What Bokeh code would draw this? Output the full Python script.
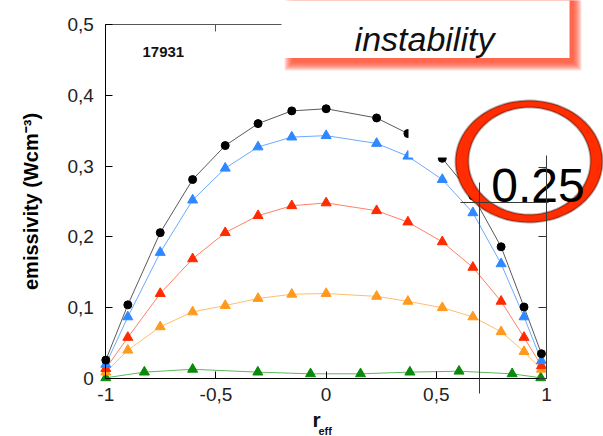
import numpy as np
from bokeh.plotting import figure
from bokeh.models import (Range1d, LinearAxis, FixedTicker, CustomJSTickFormatter,
                          Label, BoxAnnotation, PolyAnnotation, Arrow, ColumnDataSource)
from bokeh.embed import file_html
from bokeh.resources import INLINE

# ---------------- data ----------------
x_main = [-1.0, -0.9, -0.753, -0.606, -0.458, -0.309, -0.156, 0.0, 0.229, 0.371,
          0.527, 0.666, 0.794, 0.898, 0.977]
y_black = [0.026, 0.104, 0.206, 0.281, 0.329, 0.360, 0.378, 0.381, 0.368, 0.346,
           0.311, 0.258, 0.186, 0.101, 0.035]
y_blue = [0.020, 0.087, 0.178, 0.252, 0.297, 0.327, 0.341, 0.343, 0.332, 0.314,
          0.281, 0.234, 0.162, 0.087, 0.025]
y_red = [0.014, 0.058, 0.120, 0.169, 0.206, 0.230, 0.244, 0.248, 0.237, 0.221,
         0.193, 0.157, 0.109, 0.058, 0.018]
y_orange = [0.009, 0.040, 0.073, 0.094, 0.103, 0.113, 0.119, 0.120, 0.116, 0.109,
            0.100, 0.087, 0.066, 0.038, 0.013]
x_green = [-1.0, -0.825, -0.606, -0.31, -0.071, 0.156, 0.38, 0.603, 0.844, 0.974]
y_green = [0.001, 0.009, 0.013, 0.009, 0.0066, 0.0066, 0.009, 0.0103, 0.0066, 0.001]

x_ticks = [-1, -0.5, 0, 0.5, 1]
y_ticks = [0, 0.1, 0.2, 0.3, 0.4, 0.5]
shot_label = "17931"
y_title = "emissivity (Wcm\u207b\u00b3)"
box_text = "instability"
circle_text = "0.25"

FONT = "Liberation Sans"

# ---------------- geometry (pixels of the plotting box) ----------------
W, H = 603, 436
PL, PR, PT, PB = 105.3, 546.0, 24.0, 378.0


def dx(px):
    return (px - PL) / (PR - PL) * 2 - 1


def dy(py):
    return (PB - py) / (PB - PT) * 0.5


p = figure(width=W, height=H, x_range=Range1d(dx(0), dx(W)), y_range=Range1d(dy(H), dy(0)),
           output_backend="svg", toolbar_location=None, x_axis_location=None,
           y_axis_location=None, min_border=0,
           min_border_left=0, min_border_right=0, min_border_top=0, min_border_bottom=0)
p.background_fill_color = "white"
p.border_fill_color = "white"
p.outline_line_color = None
p.grid.visible = False

fmt = CustomJSTickFormatter(code="return (Math.round(tick*10)/10).toString().replace('.', ',');")
blank = CustomJSTickFormatter(code="return '';")


def make_axis(ticks, loc, bounds, labels=True, tick_in=7, color="black"):
    ax = LinearAxis(ticker=FixedTicker(ticks=ticks), formatter=fmt if labels else blank,
                    fixed_location=loc, bounds=bounds,
                    major_tick_in=tick_in, major_tick_out=0, minor_tick_line_color=None,
                    axis_line_color=color, major_tick_line_color=color,
                    major_label_text_font=FONT,
                    major_label_text_font_size="19px" if labels else "0px",
                    major_label_text_color="#222222")
    return ax


xax = make_axis(x_ticks, 0, (-1, 1))
xax.major_label_standoff = 9
p.add_layout(xax, "below")

yax = make_axis(y_ticks, -1, (0, 0.5))
yax.major_label_standoff = 12
yax.axis_label = y_title
yax.axis_label_text_font = FONT
yax.axis_label_text_font_style = "bold"
yax.axis_label_text_font_size = "20px"
yax.axis_label_text_color = "black"
yax.axis_label_standoff = 22
p.add_layout(yax, "left")

p.add_layout(make_axis(x_ticks, 0.5, (-1, 1), labels=False, color="#555555"), "above")
p.add_layout(make_axis(y_ticks, 1, (0, 0.5), labels=False, tick_in=8, color="#333333"), "right")

# ---------------- series ----------------
series = [
    (x_main, y_black, "#000000", "#5a5a5a", "circle", 8),
    (x_main, y_blue, "#2f88ff", "#6aaaff", "triangle", 10),
    (x_main, y_red, "#ff2a00", "#ff8068", "triangle", 10),
    (x_main, y_orange, "#ff9a1e", "#ffbd70", "triangle", 10),
    (x_green, y_green, "#0a8a0a", "#5cb85c", "triangle", 10),
]
for xs, ys, mc, lc, mk, sz in reversed(series):
    src = ColumnDataSource(dict(x=xs, y=ys))
    p.line("x", "y", source=src, line_color=lc, line_width=1)
for xs, ys, mc, lc, mk, sz in reversed(series):
    src = ColumnDataSource(dict(x=xs, y=ys))
    p.scatter("x", "y", source=src, marker=mk, size=sz, fill_color=mc, line_color=mc)

p.add_layout(Label(x=dx(142), y=dy(51), text=shot_label, text_font=FONT,
                   text_font_size="15px", text_font_style="bold", text_color="#111111",
                   text_baseline="alphabetic"))

# x-axis title r_eff
p.add_layout(Label(x=dx(316), y=dy(419), text="r", text_font=FONT, text_font_size="21px",
                   text_font_style="bold", text_align="center", text_color="#111111",
                   text_baseline="alphabetic"))
p.add_layout(Label(x=dx(318), y=dy(430), text="eff", text_font=FONT, text_font_size="11px",
                   text_font_style="bold", text_align="left", text_color="#111111",
                   text_baseline="alphabetic"))

# ---------------- overlays ----------------
# white patch hiding top-right part of the plot
p.add_layout(BoxAnnotation(left=dx(408), right=dx(620), top=dy(-20), bottom=dy(157),
                           fill_color="white", fill_alpha=1, line_alpha=0))

# ellipse ring with 0.25
t = np.linspace(0, 2 * np.pi, 120)
ox = [dx(528.5 + 73.5 * np.cos(a)) for a in t]
oy = [dy(161 + 61 * np.sin(a)) for a in t]
ix = [dx(529 + 61 * np.cos(a)) for a in t]
iy = [dy(160.5 + 53.5 * np.sin(a)) for a in t]
p.add_layout(PolyAnnotation(xs=ox, ys=oy, fill_color="#ff2d00", fill_alpha=1,
                            line_color="black", line_width=2))
p.add_layout(PolyAnnotation(xs=ix, ys=iy, fill_color="white", fill_alpha=1,
                            line_color="black", line_width=2))
p.add_layout(Label(x=dx(537.5), y=dy(185), text=circle_text, text_font=FONT,
                   text_font_size="48px", text_align="center", text_color="black",
                   text_baseline="alphabetic"))

# inset frame lines
seg_color = "#3a3a3a"
for (x0, y0, x1, y1) in [(479, 182, 479, 393), (460, 202, 548, 202),
                         (546, 155, 546, 378), (538, 167, 546, 167)]:
    p.add_layout(Arrow(end=None, x_start=dx(x0), y_start=dy(y0), x_end=dx(x1), y_end=dy(y1),
                       line_color=seg_color, line_width=1))

# red-glow text box
for k in range(9):
    p.add_layout(BoxAnnotation(left=dx(292 - k), right=dx(573 + k), top=dy(-20),
                               bottom=dy(62 + k), fill_color="#ff3a1a", fill_alpha=0.15,
                               line_alpha=0))
p.add_layout(BoxAnnotation(left=dx(281), right=dx(569), top=dy(-20), bottom=dy(57.5),
                           fill_color="white", fill_alpha=1, line_alpha=0))
p.add_layout(Label(x=dx(424), y=dy(38), text=box_text, text_font=FONT,
                   text_font_size="34px", text_font_style="italic", text_align="center",
                   text_color="#111111", text_baseline="alphabetic"))

open("out.html", "w").write(file_html(p, INLINE))
